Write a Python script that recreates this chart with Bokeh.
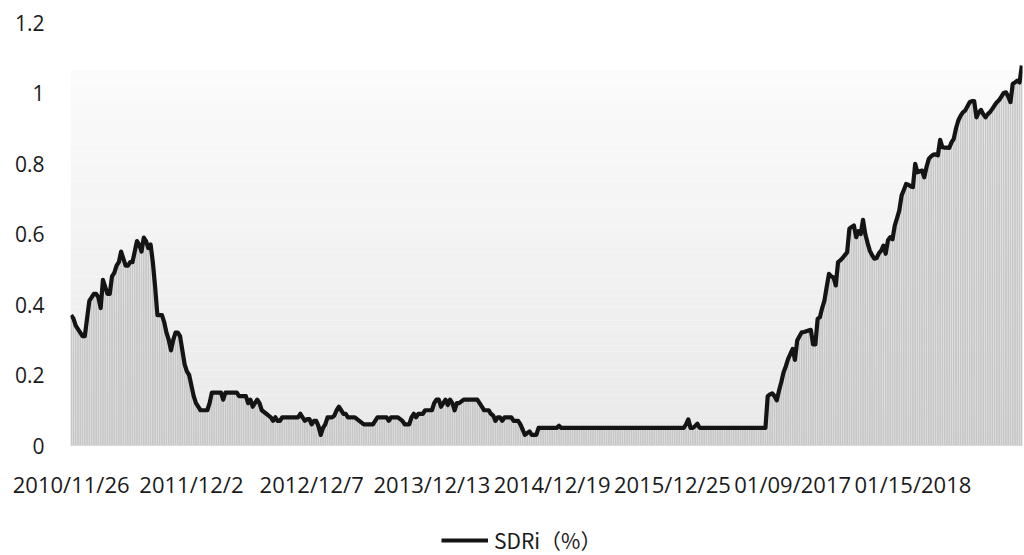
import numpy as np
from bokeh.plotting import figure
from bokeh.layouts import column
from bokeh.models import Range1d, FixedTicker, Legend, LegendItem
from bokeh.embed import file_html
from bokeh.resources import INLINE

# ---- data (weekly SDR interest rate, %) ----
tick_index = [0, 53, 106, 159, 212, 265, 318, 371]
tick_labels = ["2010/11/26", "2011/12/2", "2012/12/7", "2013/12/13",
               "2014/12/19", "2015/12/25", "01/09/2017", "01/15/2018"]
y_ticks = [0, 0.2, 0.4, 0.6, 0.8, 1, 1.2]
y_tick_labels = ["0", "0.2", "0.4", "0.6", "0.8", "1", "1.2"]
series_name = "SDRi（%）"

sdri = [
    0.37, 0.36, 0.34, 0.33, 0.32, 0.31, 0.31, 0.36, 0.41, 0.42,
    0.43, 0.43, 0.42, 0.39, 0.47, 0.45, 0.43, 0.43, 0.48, 0.49,
    0.51, 0.52, 0.55, 0.53, 0.51, 0.51, 0.52, 0.52, 0.55, 0.58,
    0.57, 0.55, 0.59, 0.58, 0.56, 0.57, 0.52, 0.45, 0.37, 0.37,
    0.37, 0.35, 0.32, 0.30, 0.27, 0.30, 0.32, 0.32, 0.31, 0.27,
    0.23, 0.21, 0.20, 0.17, 0.14, 0.12, 0.11, 0.10, 0.10, 0.10,
    0.10, 0.12, 0.15, 0.15, 0.15, 0.15, 0.15, 0.13, 0.15, 0.15,
    0.15, 0.15, 0.15, 0.15, 0.14, 0.14, 0.14, 0.14, 0.12, 0.13,
    0.11, 0.12, 0.13, 0.12, 0.10, 0.095, 0.09, 0.085, 0.08, 0.07,
    0.08, 0.07, 0.07, 0.08, 0.08, 0.08, 0.08, 0.08, 0.08, 0.08,
    0.08, 0.09, 0.08, 0.07, 0.075, 0.075, 0.06, 0.07, 0.07, 0.055,
    0.03, 0.05, 0.06, 0.08, 0.08, 0.08, 0.085, 0.10, 0.11, 0.10,
    0.09, 0.09, 0.08, 0.08, 0.08, 0.08, 0.075, 0.07, 0.065, 0.06,
    0.06, 0.06, 0.06, 0.06, 0.07, 0.08, 0.08, 0.08, 0.08, 0.08,
    0.07, 0.08, 0.08, 0.08, 0.08, 0.075, 0.07, 0.06, 0.06, 0.06,
    0.08, 0.09, 0.08, 0.09, 0.09, 0.09, 0.10, 0.10, 0.10, 0.10,
    0.12, 0.13, 0.13, 0.11, 0.12, 0.13, 0.115, 0.13, 0.12, 0.10,
    0.12, 0.12, 0.125, 0.13, 0.13, 0.13, 0.13, 0.13, 0.13, 0.13,
    0.12, 0.11, 0.10, 0.10, 0.10, 0.09, 0.085, 0.07, 0.08, 0.08,
    0.07, 0.08, 0.08, 0.08, 0.08, 0.07, 0.07, 0.07, 0.06, 0.045,
    0.03, 0.035, 0.04, 0.03, 0.03, 0.03, 0.05, 0.05, 0.05, 0.05,
    0.05, 0.05, 0.05, 0.05, 0.05, 0.056, 0.05, 0.05, 0.05, 0.05,
    0.05, 0.05, 0.05, 0.05, 0.05, 0.05, 0.05, 0.05, 0.05, 0.05,
    0.05, 0.05, 0.05, 0.05, 0.05, 0.05, 0.05, 0.05, 0.05, 0.05,
    0.05, 0.05, 0.05, 0.05, 0.05, 0.05, 0.05, 0.05, 0.05, 0.05,
    0.05, 0.05, 0.05, 0.05, 0.05, 0.05, 0.05, 0.05, 0.05, 0.05,
    0.05, 0.05, 0.05, 0.05, 0.05, 0.05, 0.05, 0.05, 0.05, 0.05,
    0.05, 0.06, 0.074, 0.05, 0.05, 0.055, 0.062, 0.05, 0.05, 0.05,
    0.05, 0.05, 0.05, 0.05, 0.05, 0.05, 0.05, 0.05, 0.05, 0.05,
    0.05, 0.05, 0.05, 0.05, 0.05, 0.05, 0.05, 0.05, 0.05, 0.05,
    0.05, 0.05, 0.05, 0.05, 0.05, 0.05, 0.05, 0.14, 0.145, 0.148,
    0.14, 0.128, 0.156, 0.18, 0.208, 0.225, 0.246, 0.26, 0.274, 0.243,
    0.298, 0.31, 0.321, 0.322, 0.324, 0.326, 0.328, 0.287, 0.287, 0.359,
    0.364, 0.39, 0.411, 0.45, 0.487, 0.48, 0.477, 0.454, 0.52, 0.525,
    0.532, 0.54, 0.548, 0.615, 0.62, 0.624, 0.591, 0.608, 0.6, 0.64,
    0.6, 0.575, 0.553, 0.54, 0.53, 0.532, 0.545, 0.553, 0.567, 0.544,
    0.582, 0.591, 0.585, 0.624, 0.645, 0.667, 0.709, 0.725, 0.742, 0.74,
    0.735, 0.733, 0.799, 0.775, 0.778, 0.78, 0.761, 0.79, 0.813, 0.82,
    0.825, 0.826, 0.823, 0.867, 0.846, 0.845, 0.845, 0.844, 0.86, 0.87,
    0.9, 0.922, 0.935, 0.945, 0.95, 0.962, 0.974, 0.977, 0.977, 0.931,
    0.945, 0.952, 0.94, 0.931, 0.94, 0.946, 0.955, 0.965, 0.974, 0.98,
    0.99, 1.0, 1.002, 0.99, 0.974, 1.026, 1.03, 1.035, 1.03, 1.078,
]

n = len(sdri)
idx = list(range(n))

p = figure(width=1024, height=520, output_backend="svg", toolbar_location=None,
           x_range=Range1d(-0.3, n - 1 + 0.3), y_range=Range1d(0, 1.2),
           min_border_left=70, min_border_right=2, min_border_top=22,
           min_border_bottom=75, background_fill_color="white",
           border_fill_color="white")
p.outline_line_color = None
p.xgrid.visible = False
p.ygrid.visible = False

# gradient backdrop band (light grey at bottom fading to near white)
band_top = 1.065
steps = 60
edges = np.linspace(0, band_top, steps + 1)
cols = []
for k in range(steps):
    f = (k + 0.5) / steps
    c = int(round(233 + (251 - 233) * f))
    cols.append("#%02x%02x%02x" % (c, c, c))
p.quad(left=-0.3, right=n - 1 + 0.3, bottom=edges[:-1], top=edges[1:],
       fill_color=cols, line_color=None)

# columns under the line
p.vbar(x=idx, top=sdri, bottom=0, width=0.75, fill_color="#c6c6c6", line_color=None)

# the line
line_style = dict(line_width=4.2, line_color="#141414")
p.line(idx, sdri, line_join="round", **line_style)

# axes
xa = p.xaxis[0]
xa.ticker = FixedTicker(ticks=tick_index)
xa.major_label_overrides = {t: l for t, l in zip(tick_index, tick_labels)}
xa.axis_line_color = "#d9d9d9"
xa.axis_line_width = 1
xa.major_tick_line_color = None
xa.minor_tick_line_color = None
xa.major_label_standoff = 17
xa.major_label_text_font = "Open Sans"
xa.major_label_text_font_size = "22px"
xa.major_label_text_color = "#1a1a1a"

ya = p.yaxis[0]
ya.ticker = FixedTicker(ticks=y_ticks)
ya.major_label_overrides = {t: l for t, l in zip(y_ticks, y_tick_labels)}
ya.axis_line_color = None
ya.major_tick_line_color = None
ya.minor_tick_line_color = None
ya.major_label_standoff = 20
ya.major_label_text_font = "Open Sans"
ya.major_label_text_font_size = "21px"
ya.major_label_text_color = "#1a1a1a"

# legend strip below the chart
lg = figure(width=1024, height=35, output_backend="svg", toolbar_location=None,
            x_range=Range1d(0, 1), y_range=Range1d(0, 1),
            x_axis_location=None, y_axis_location=None,
            min_border_left=0, min_border_right=0, min_border_top=0,
            min_border_bottom=0, background_fill_color="white",
            border_fill_color="white")
lg.outline_line_color = None
lg.xgrid.visible = False
lg.ygrid.visible = False
key = lg.line(x=[-2, -1], y=[-2, -2], **line_style)
legend = Legend(items=[LegendItem(label=series_name, renderers=[key])],
                location=(371, 0), orientation="horizontal",
                glyph_width=47, glyph_height=20, label_standoff=6,
                padding=0, margin=0, spacing=0,
                border_line_color=None, background_fill_alpha=0,
                label_text_font="Noto Sans CJK SC", label_text_font_size="21px",
                label_text_color="#1a1a1a")
lg.add_layout(legend)

open("out.html", "w").write(file_html(column(p, lg, spacing=0), INLINE))
